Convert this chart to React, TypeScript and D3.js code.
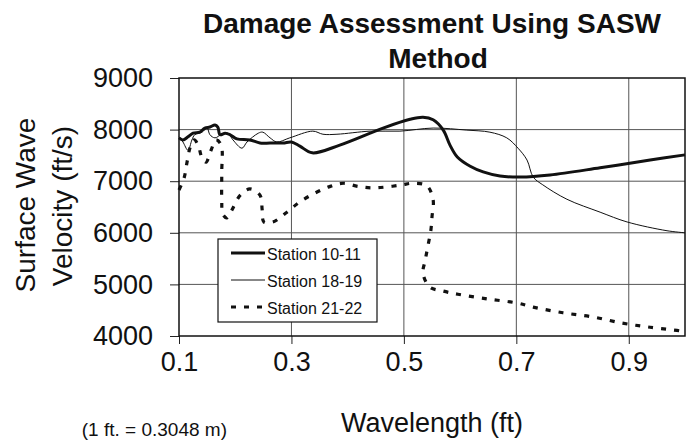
import { useEffect, useRef } from 'react';
import * as d3 from 'd3';

// wavelength (ft) / surface wave velocity (ft/s)
const st1011W = [0.1, 0.107, 0.116, 0.125, 0.137, 0.146, 0.155, 0.164, 0.169, 0.173, 0.182, 0.191, 0.203, 0.226, 0.244, 0.262, 0.285, 0.3, 0.315, 0.337, 0.386, 0.463, 0.511, 0.534, 0.552, 0.57, 0.582, 0.595, 0.618, 0.641, 0.671, 0.707, 0.76, 0.849, 0.938, 1.0];
const st1011V = [7840, 7800, 7860, 7930, 7950, 8030, 8050, 8090, 8050, 7900, 7930, 7900, 7820, 7800, 7740, 7740, 7740, 7760, 7680, 7550, 7700, 8030, 8200, 8240, 8190, 7990, 7700, 7470, 7290, 7180, 7100, 7080, 7120, 7260, 7410, 7510];

const st1819W = [0.1, 0.107, 0.116, 0.123, 0.128, 0.141, 0.15, 0.155, 0.164, 0.176, 0.187, 0.196, 0.212, 0.221, 0.241, 0.249, 0.262, 0.274, 0.297, 0.338, 0.356, 0.381, 0.44, 0.493, 0.552, 0.612, 0.653, 0.683, 0.703, 0.719, 0.73, 0.747, 0.79, 0.849, 0.897, 0.968, 1.0];
const st1819V = [7860, 7760, 7600, 7800, 7900, 7950, 8030, 7900, 7840, 7910, 7930, 7800, 7640, 7760, 7930, 7950, 7840, 7760, 7840, 7970, 7910, 7910, 7970, 7970, 8030, 7990, 7950, 7840, 7640, 7410, 7080, 6930, 6650, 6400, 6210, 6040, 6000];

const st2122W = [0.1, 0.109, 0.114, 0.12, 0.127, 0.134, 0.141, 0.148, 0.157, 0.166, 0.175, 0.176, 0.176, 0.178, 0.185, 0.194, 0.209, 0.226, 0.244, 0.248, 0.251, 0.267, 0.292, 0.315, 0.342, 0.369, 0.392, 0.418, 0.443, 0.47, 0.497, 0.516, 0.541, 0.552, 0.55, 0.548, 0.543, 0.538, 0.534, 0.546, 0.57, 0.596, 0.648, 0.701, 0.73, 0.783, 0.836, 0.888, 0.938, 0.991, 1.0];
const st2122V = [6830, 7060, 7350, 7660, 7800, 7700, 7450, 7370, 7600, 7800, 7700, 7160, 6640, 6360, 6290, 6440, 6730, 6850, 6730, 6440, 6210, 6210, 6400, 6600, 6770, 6900, 6960, 6900, 6870, 6890, 6930, 6960, 6910, 6640, 6310, 6050, 5760, 5470, 5220, 4950, 4870, 4810, 4720, 4640, 4560, 4450, 4370, 4250, 4170, 4100, 4080];

const xTicks = [0.1, 0.3, 0.5, 0.7, 0.9];
const yTicks = [4000, 5000, 6000, 7000, 8000, 9000];
const seriesNames = ['Station 10-11', 'Station 18-19', 'Station 21-22'];

const W = 687;
const H = 443;
const M = { top: 78, right: 2, bottom: 107, left: 179 };
const FONT = '"Liberation Sans", Arial, Helvetica, sans-serif';

export default function App() {
  const svgRef = useRef<SVGSVGElement>(null);

  useEffect(() => {
    if (!svgRef.current) return;
    const svg = d3.select(svgRef.current);
    svg.selectAll('*').remove();

    const iW = W - M.left - M.right;
    const iH = H - M.top - M.bottom;
    const x = d3.scaleLinear([0.1, 1.0], [0, iW]);
    const y = d3.scaleLinear([4000, 9000], [iH, 0]);

    svg.append('rect').attr('width', W).attr('height', H).attr('fill', '#fff');

    // Title
    const title = svg.append('text')
      .attr('text-anchor', 'middle')
      .attr('font-family', FONT)
      .attr('font-weight', 'bold')
      .attr('font-size', 28)
      .attr('fill', '#111');
    title.append('tspan').attr('x', 432).attr('y', 33).text('Damage Assessment Using SASW');
    title.append('tspan').attr('x', 438).attr('y', 68).text('Method');

    const g = svg.append('g').attr('transform', `translate(${M.left},${M.top})`);

    // Grid
    yTicks.slice(1, -1).forEach(v => {
      g.append('line')
        .attr('x1', 0).attr('x2', iW)
        .attr('y1', y(v)).attr('y2', y(v))
        .attr('stroke', '#555').attr('stroke-width', 1);
    });
    xTicks.slice(1).forEach(v => {
      g.append('line')
        .attr('x1', x(v)).attr('x2', x(v))
        .attr('y1', 0).attr('y2', iH)
        .attr('stroke', '#555').attr('stroke-width', 1);
    });

    // Axes
    g.append('g')
      .call(d3.axisLeft(y).tickValues(yTicks).tickSize(9).tickPadding(17).tickFormat(d3.format('d')))
      .call(a => {
        a.select('.domain').remove();
        a.selectAll('.tick line').attr('stroke', '#222');
        a.selectAll('text').attr('font-family', FONT).attr('font-size', 27).attr('fill', '#111');
      });

    g.append('g')
      .attr('transform', `translate(0,${iH})`)
      .call(d3.axisBottom(x).tickValues(xTicks).tickSize(8).tickPadding(27).tickFormat(d3.format('.1f')))
      .call(a => {
        a.select('.domain').remove();
        a.selectAll('.tick line').attr('stroke', '#222');
        a.selectAll('text').attr('font-family', FONT).attr('font-size', 27).attr('fill', '#111').attr('dy', 0);
      });

    // Frame
    g.append('rect')
      .attr('width', iW).attr('height', iH)
      .attr('fill', 'none').attr('stroke', '#111').attr('stroke-width', 1.5);

    // Series
    const line = d3.line<[number, number]>()
      .x(d => x(d[0]))
      .y(d => y(d[1]))
      .curve(d3.curveCatmullRom.alpha(0.5));

    const series = [
      { w: st1011W, v: st1011V, width: 3, dash: '' },
      { w: st1819W, v: st1819V, width: 1, dash: '' },
      { w: st2122W, v: st2122V, width: 3.2, dash: '5 8' },
    ];

    series.forEach(s => {
      const pts = s.w.map((w, i) => [w, s.v[i]] as [number, number]);
      g.append('path')
        .attr('d', line(pts) ?? '')
        .attr('fill', 'none')
        .attr('stroke', '#111')
        .attr('stroke-width', s.width)
        .attr('stroke-dasharray', s.dash)
        .attr('stroke-linejoin', 'round');
    });

    // Legend
    const lg = svg.append('g').attr('transform', 'translate(218,239)');
    lg.append('rect')
      .attr('width', 159).attr('height', 83)
      .attr('fill', '#fff').attr('stroke', '#111').attr('stroke-width', 1.2);
    seriesNames.forEach((name, i) => {
      const ly = 14 + i * 27;
      lg.append('line')
        .attr('x1', 13).attr('x2', 47)
        .attr('y1', ly).attr('y2', ly)
        .attr('stroke', '#111')
        .attr('stroke-width', series[i].width)
        .attr('stroke-dasharray', series[i].dash);
      lg.append('text')
        .attr('x', 49).attr('y', ly + 7)
        .attr('font-family', FONT).attr('font-size', 16).attr('fill', '#111')
        .text(name);
    });

    // Axis titles
    svg.append('text')
      .attr('transform', 'translate(35,205) rotate(-90)')
      .attr('text-anchor', 'middle')
      .attr('font-family', FONT).attr('font-size', 28).attr('fill', '#111')
      .text('Surface Wave');
    svg.append('text')
      .attr('transform', 'translate(72,206) rotate(-90)')
      .attr('text-anchor', 'middle')
      .attr('font-family', FONT).attr('font-size', 28).attr('fill', '#111')
      .text('Velocity (ft/s)');

    svg.append('text')
      .attr('x', 432).attr('y', 432)
      .attr('text-anchor', 'middle')
      .attr('font-family', FONT).attr('font-size', 27).attr('fill', '#111')
      .text('Wavelength (ft)');

    svg.append('text')
      .attr('x', 227).attr('y', 436)
      .attr('text-anchor', 'end')
      .attr('font-family', FONT).attr('font-size', 19).attr('fill', '#111')
      .text('(1 ft. = 0.3048 m)');
  }, []);

  return (
    <svg
      ref={svgRef}
      width={W}
      height={H}
      style={{ position: 'absolute', left: 0, top: 0, display: 'block' }}
    />
  );
}
